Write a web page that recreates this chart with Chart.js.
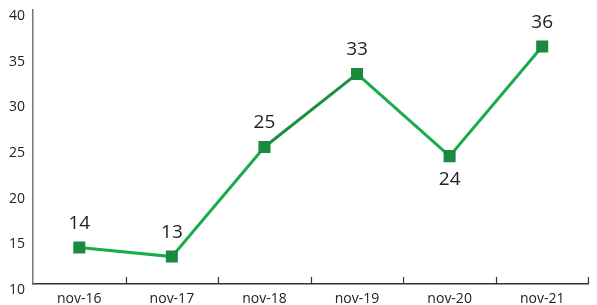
<!DOCTYPE html>
<html><head><meta charset="utf-8">
<script src="https://cdn.jsdelivr.net/npm/chart.js@4/dist/chart.umd.min.js"></script>
<style>html,body{margin:0;padding:0;background:#fff;}canvas{display:block;}</style>
</head><body>
<canvas id="c" width="597" height="305"></canvas>
<script>
const categories = ["nov-16","nov-17","nov-18","nov-19","nov-20","nov-21"];
const values = [14, 13, 25, 33, 24, 36];
const labelBelow = [false, false, false, false, true, false];
const yMin = 10, yMax = 40, yStep = 5;

const lineGreen = '#17ad4b';
const darkGreen = '#198a3f';

const dataLabels = {
  id: 'dataLabels',
  afterDatasetsDraw(chart) {
    const ctx = chart.ctx;
    const meta = chart.getDatasetMeta(0);
    ctx.save();
    ctx.font = '19px "Open Sans", sans-serif';
    ctx.fillStyle = '#222';
    ctx.textAlign = 'center';
    ctx.textBaseline = 'middle';
    meta.data.forEach((pt, i) => {
      const dy = labelBelow[i] ? 23 : -24;
      ctx.fillText(String(values[i]), pt.x, pt.y + dy);
    });
    ctx.restore();
  }
};

const innerTicks = {
  id: 'innerTicks',
  afterDraw(chart) {
    const ctx = chart.ctx;
    const xs = chart.scales.x;
    const bottom = chart.chartArea.bottom;
    const step = xs.getPixelForTick(1) - xs.getPixelForTick(0);
    ctx.save();
    ctx.strokeStyle = '#333';
    ctx.lineWidth = 1.2;
    for (let i = 1; i <= categories.length; i++) {
      const x = xs.getPixelForTick(i - 1) + step / 2;
      ctx.beginPath();
      ctx.moveTo(Math.round(x) + 0.5, bottom);
      ctx.lineTo(Math.round(x) + 0.5, bottom - 7);
      ctx.stroke();
    }
    ctx.restore();
  }
};

new Chart(document.getElementById('c'), {
  type: 'line',
  data: {
    labels: categories,
    datasets: [{
      data: values,
      borderColor: lineGreen,
      borderWidth: 3,
      pointStyle: 'rect',
      pointRadius: 8.5,
      pointBackgroundColor: darkGreen,
      pointBorderColor: darkGreen,
      pointBorderWidth: 0,
      tension: 0,
      segment: {
        borderColor: c => c.p0DataIndex === 2 ? '#1c8f42' : lineGreen
      }
    }]
  },
  options: {
    responsive: false,
    animation: false,
    layout: { padding: { top: 10, right: 0, left: 0, bottom: 0 } },
    plugins: { legend: { display: false }, tooltip: { enabled: false } },
    scales: {
      x: {
        offset: true,
        grid: { display: false, offset: true, drawTicks: false },
        border: { display: true, color: '#333', width: 1.5 },
        ticks: { color: '#222', font: { family: '"Open Sans", sans-serif', size: 14 }, padding: 7, maxRotation: 0 },
        afterFit(s) { s.height = 21; s.paddingLeft = 0; s.paddingRight = 0; }
      },
      y: {
        min: yMin, max: yMax,
        grid: { display: false, drawTicks: false },
        border: { display: true, color: '#777', width: 1.5 },
        ticks: { stepSize: yStep, color: '#222', font: { family: '"Open Sans", sans-serif', size: 14 }, padding: 8, labelOffset: 6 },
        afterFit(s) { s.width = 33; s.paddingTop = 0; s.paddingBottom = 0; }
      }
    }
  },
  plugins: [dataLabels, innerTicks]
});
</script>
</body></html>
